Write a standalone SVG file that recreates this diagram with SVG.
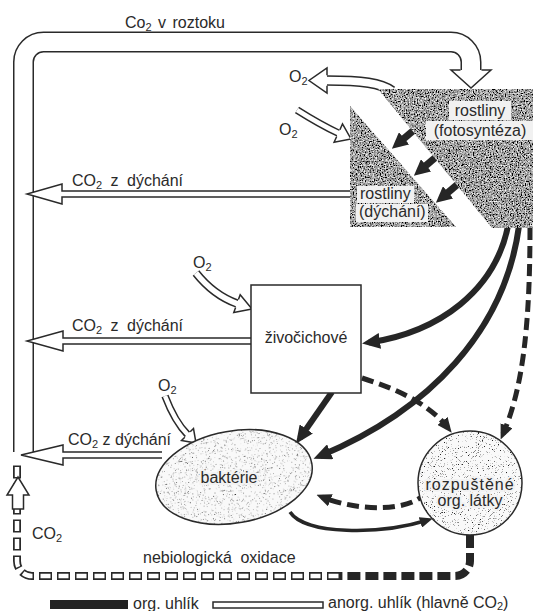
<svg xmlns="http://www.w3.org/2000/svg" width="535" height="611" viewBox="0 0 535 611">
<defs>
<filter id="fdk" x="0" y="0" width="1" height="1">
 <feTurbulence type="fractalNoise" baseFrequency="0.75" numOctaves="2" seed="4" result="n"/>
 <feColorMatrix in="n" type="matrix" values="2 0 0 0 -0.64  2 0 0 0 -0.64  2 0 0 0 -0.64  0 0 0 0 1" result="g"/>
 <feComposite in="g" in2="SourceGraphic" operator="in"/>
</filter>
<filter id="flt" x="0" y="0" width="1" height="1">
 <feTurbulence type="fractalNoise" baseFrequency="1.5" numOctaves="1" seed="7" result="n"/>
 <feColorMatrix in="n" type="matrix" values="-8 0 0 0 5.9  -8 0 0 0 5.9  -8 0 0 0 5.9  0 0 0 0 1" result="g"/>
 <feColorMatrix in="g" type="matrix" values="0.93 0 0 0 0.02  0 0.93 0 0 0.02  0 0 0.93 0 0.02  0 0 0 1 0" result="h"/>
 <feComposite in="h" in2="SourceGraphic" operator="in"/>
</filter>
<marker id="ah" viewBox="0 0 18 16" markerWidth="18" markerHeight="16" refX="11" refY="8" orient="auto" markerUnits="userSpaceOnUse"><path d="M0,0 L18,8 L0,16 z" fill="#262626"/></marker>
<marker id="ahb" viewBox="0 0 16 16" markerWidth="16" markerHeight="16" refX="8" refY="8" orient="auto" markerUnits="userSpaceOnUse"><path d="M0,0 L16,8 L0,16 z" fill="#262626"/></marker>
<marker id="ahd" viewBox="0 0 15 13" markerWidth="15" markerHeight="13" refX="9" refY="6.5" orient="auto" markerUnits="userSpaceOnUse"><path d="M0,0 L15,6.5 L0,13 z" fill="#262626"/></marker>
<marker id="ahs" viewBox="0 0 13 11" markerWidth="13" markerHeight="11" refX="8" refY="5.5" orient="auto" markerUnits="userSpaceOnUse"><path d="M0,0 L13,5.5 L0,11 z" fill="#262626"/></marker>
</defs>
<style>
 text { font-family: "Liberation Sans", Arial, sans-serif; fill:#2a2a2a; font-size:16px; }
 .ho { fill:#fff; stroke:#2a2a2a; stroke-width:1.5; stroke-linejoin:miter; }
 .bd { fill:none; stroke:#2a2a2a; }
 .bw { fill:none; stroke:#fff; }
 .org { fill:none; stroke:#262626; stroke-width:6; marker-end:url(#ah); }
 .dsh { fill:none; stroke:#262626; stroke-width:5; stroke-dasharray:12 6; marker-end:url(#ahd); }
 .sub { font-size:11px; }
 .lab { fill:#f1f1f1; }
 .halo { paint-order:stroke; stroke:#f2f2f2; stroke-width:4px; stroke-linejoin:round; }
 .outl { fill:none; stroke:#2a2a2a; stroke-width:1.5; }
</style>
<rect width="535" height="611" fill="#fff"/>

<g id="connectors">
 <!-- big inorganic band: CO2 v roztoku -->
 <path class="bd" stroke-width="21" d="M23.5 452 V62 A20 20 0 0 1 43.5 42 H451 A20 20 0 0 1 471 62 V70"/>
 <path class="bw" stroke-width="18" d="M23.5 452 V62 A20 20 0 0 1 43.5 42 H451 A20 20 0 0 1 471 62 V70.5"/>
 <path class="ho" d="M460.5 70 H451 L471 88 L491 70 H481.5"/>

 <!-- CO2 z dychani arrows -->
 <path class="ho" d="M351 191 H62 V184 L27 194 L62 204 V197 H351"/>
 <path class="ho" d="M252 338 H63 V331 L27 341 L63 351 V344 H252"/>
 <path class="ho" d="M162 452 H63 V445 L21 455 L63 465 V458 H162"/>

 <!-- O2 out of photosynthesis -->
 <path class="bd" stroke-width="10.5" d="M392 91 C381 83 362 80.5 327 80.5"/>
 <path class="bw" stroke-width="7.5" d="M392 91 C381 83 362 80.5 326 80.5"/>
 <path class="ho" d="M327 75.25 V68 L309 80.5 L327 93 V85.75"/>

 <!-- O2 into plant respiration -->
 <path class="bd" stroke-width="7.5" d="M297 110 Q320.3 124.7 338.3 133.1"/>
 <path class="bw" stroke-width="4.5" d="M297 110 Q320.3 124.7 339 133.4"/>
 <path class="ho" d="M339.9 129.7 L342.5 124 L351 139 L334.1 142.2 L336.7 136.5"/>

 <!-- O2 into animals -->
 <path class="bd" stroke-width="8.5" d="M196 273 Q213.5 295.1 237 303.6"/>
 <path class="bw" stroke-width="5.5" d="M196 273 Q213.5 295.1 237.6 303.8"/>
 <path class="ho" d="M238.4 299.6 L240.2 294.7 L252 309 L233.8 312.5 L235.6 307.6"/>

 <!-- O2 into bacteria -->
 <path class="bd" stroke-width="7.5" d="M165 396 Q174.8 421.8 187.5 434.5"/>
 <path class="bw" stroke-width="4.5" d="M165 396 Q174.8 421.8 188 435"/>
 <path class="ho" d="M190.2 431.8 L193.5 428.5 L196 443 L181.5 440.5 L184.8 437.2"/>

 <!-- organic carbon flows -->
 <path class="org" d="M508 226 C495 290 440 332 369 342.5"/>
 <path class="org" d="M519 226 C505 330 430 410 320 456"/>
 <path class="org" d="M332 392 L300 438"/>
 <path fill="none" stroke="#262626" stroke-width="3.5" marker-end="url(#ahs)" d="M290 512 C305 535 380 535 428 520"/>
 <path class="dsh" d="M427 492 C410 512 360 512 322 497"/>
 <path class="dsh" d="M362 378 C400 390 430 405 448 428"/>
 <path class="dsh" d="M530 228 C530 330 522 390 503 434"/>

 <!-- photosynthesis -> respiration -->
 <path fill="none" stroke="#262626" stroke-width="7" marker-end="url(#ahb)" d="M414 130 L398 143.5"/>
 <path fill="none" stroke="#262626" stroke-width="7" marker-end="url(#ahb)" d="M436 157 L420 170.5"/>
 <path fill="none" stroke="#262626" stroke-width="7" marker-end="url(#ahb)" d="M458 184 L442 197.5"/>

 <!-- non-biological oxidation -->
 <path fill="none" stroke="#262626" stroke-width="8" stroke-dasharray="13 5" d="M470 535 V561 A15 15 0 0 1 455 576 H340"/>
 <path fill="none" stroke="#2a2a2a" stroke-width="8" stroke-dasharray="13 5" d="M340 576 H32 A15 15 0 0 1 17 561 V462"/>
 <path fill="none" stroke="#fff" stroke-width="4.5" stroke-dasharray="10 8" stroke-dashoffset="-1.5" d="M340 576 H32 A15 15 0 0 1 17 561 V462"/>
 <path class="ho" d="M12.5 509 V495 H7 L18 477 L29 495 H23.5 V509 Z"/>

 <!-- connector labels -->
 <text x="125" y="28" font-size="17" word-spacing="2">Co<tspan class="sub" dy="3">2</tspan><tspan dy="-3"> v roztoku</tspan></text>
 <text x="72" y="186" word-spacing="4">CO<tspan class="sub" dy="3">2</tspan><tspan dy="-3"> z dýchání</tspan></text>
 <text x="72" y="331" word-spacing="4">CO<tspan class="sub" dy="3">2</tspan><tspan dy="-3"> z dýchání</tspan></text>
 <text x="68" y="445">CO<tspan class="sub" dy="3">2</tspan><tspan dy="-3"> z dýchání</tspan></text>
 <text x="289" y="82">O<tspan class="sub" dy="3">2</tspan></text>
 <text x="279" y="135">O<tspan class="sub" dy="3">2</tspan></text>
 <text x="193" y="268">O<tspan class="sub" dy="3">2</tspan></text>
 <text x="158" y="391">O<tspan class="sub" dy="3">2</tspan></text>
 <text x="32" y="539">CO<tspan class="sub" dy="3">2</tspan></text>
 <text x="143" y="563" word-spacing="4">nebiologická oxidace</text>
</g>

<g id="photosynthesis">
 <polygon points="378,89 533,89 533,228 492,228" fill="#666" filter="url(#fdk)"/>
 <rect class="lab" x="449" y="101" width="62" height="19"/>
 <rect class="lab" x="426" y="121" width="107" height="19"/>
 <text x="480" y="116" font-size="18" text-anchor="middle">rostliny</text>
 <text x="480" y="136" font-size="18" text-anchor="middle">(fotosyntéza)</text>
</g>

<g id="respiration">
 <polygon points="350,106 350,227 456,227" fill="#666" filter="url(#fdk)"/>
 <rect class="lab" x="357" y="186" width="57" height="17"/>
 <rect class="lab" x="356" y="204" width="72" height="18"/>
 <text x="360" y="199">rostliny</text>
 <text x="359" y="217">(dýchání)</text>
</g>

<g id="animals">
 <rect x="251" y="285" width="110" height="108" fill="#fff" stroke="#2a2a2a" stroke-width="1.5"/>
 <text x="306" y="343" text-anchor="middle">živočichové</text>
</g>

<g id="bacteria">
 <ellipse cx="234" cy="477" rx="79" ry="46" transform="rotate(-10 234 477)" fill="#eee" filter="url(#flt)"/>
 <ellipse class="outl" cx="234" cy="477" rx="79" ry="46" transform="rotate(-10 234 477)"/>
 <text class="halo" x="229" y="483" text-anchor="middle">baktérie</text>
</g>

<g id="dissolved">
 <circle cx="470" cy="483" r="52" fill="#eee" filter="url(#flt)"/>
 <circle class="outl" cx="470" cy="483" r="52"/>
 <text class="halo" x="470" y="490" text-anchor="middle" letter-spacing="1">rozpuštěné</text>
 <text class="halo" x="470" y="506" text-anchor="middle">org. látky</text>
</g>

<g id="legend">
 <rect x="50" y="600" width="78" height="9" fill="#222"/>
 <text x="133" y="609">org. uhlík</text>
 <rect x="213" y="602" width="110" height="6" fill="#fff" stroke="#2a2a2a" stroke-width="1.5"/>
 <text x="328" y="608" font-size="17">anorg. uhlík (hlavně CO<tspan class="sub" dy="2">2</tspan><tspan dy="-2">)</tspan></text>
</g>
</svg>
